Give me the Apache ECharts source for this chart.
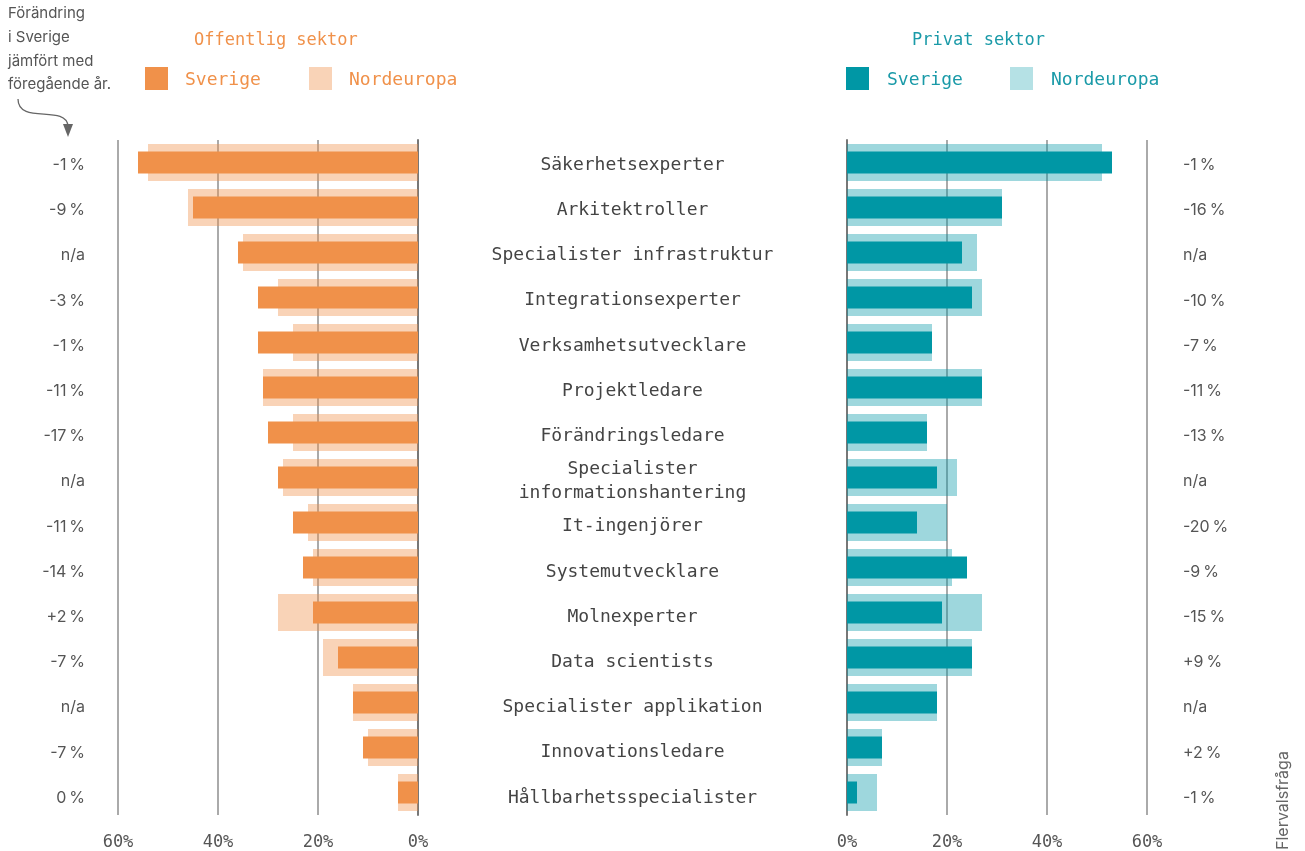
<!DOCTYPE html>
<html>
<head>
<meta charset="utf-8">
<script src="https://cdn.jsdelivr.net/npm/echarts@6/dist/echarts.min.js"></script>
<style>
  html, body { margin: 0; padding: 0; background: #fff; }
  #main { width: 1305px; height: 851px; }
</style>
</head>
<body>
<div id="main"></div>
<script>
// roller (mitten)
const categories = [
  'Säkerhetsexperter', 'Arkitektroller', 'Specialister infrastruktur', 'Integrationsexperter',
  'Verksamhetsutvecklare', 'Projektledare', 'Förändringsledare', 'Specialister\ninformationshantering',
  'It-ingenjörer', 'Systemutvecklare', 'Molnexperter', 'Data scientists',
  'Specialister applikation', 'Innovationsledare', 'Hållbarhetsspecialister'
]
// offentlig sektor, andel %
const offSverige = [56, 45, 36, 32, 32, 31, 30, 28, 25, 23, 21, 16, 13, 11, 4]
const offNord = [54, 46, 35, 28, 25, 31, 25, 27, 22, 21, 28, 19, 13, 10, 4]
// privat sektor, andel %
const privSverige = [53, 31, 23, 25, 17, 27, 16, 18, 14, 24, 19, 25, 18, 7, 2]
const privNord = [51, 31, 26, 27, 17, 27, 16, 22, 20, 21, 27, 25, 18, 7, 6]
// förändring jämfört med föregående år
const offChange = ['-1\u2009%', '-9\u2009%', 'n/a', '-3\u2009%', '-1\u2009%', '-11\u2009%', '-17\u2009%', 'n/a',
  '-11\u2009%', '-14\u2009%', '+2\u2009%', '-7\u2009%', 'n/a', '-7\u2009%', '0\u2009%']
const privChange = ['-1\u2009%', '-16\u2009%', 'n/a', '-10\u2009%', '-7\u2009%', '-11\u2009%', '-13\u2009%', 'n/a',
  '-20\u2009%', '-9\u2009%', '-15\u2009%', '+9\u2009%', 'n/a', '+2\u2009%', '-1\u2009%']
const xTicks = [0, 20, 40, 60]

const ORANGE = '#f0914a'
const ORANGE_LIGHT = 'rgba(240, 145, 74, 0.4)'
const TEAL = '#0097a5'
const TEAL_LIGHT = 'rgba(0, 151, 165, 0.38)'
const TEAL_TEXT = '#1a9aa8'
const MONO = '"DejaVu Sans Mono", monospace'
const SANS = 'Inter, "Noto Sans", sans-serif'

const myChart = echarts.init(document.getElementById('main'), null, { renderer: 'canvas' })

function valueAxis (gridIndex, inverse) {
  return {
    type: 'value',
    gridIndex: gridIndex,
    inverse: inverse,
    min: xTicks[0],
    max: xTicks[xTicks.length - 1],
    interval: 20,
    axisLine: { show: false },
    axisTick: { show: false },
    axisLabel: {
      formatter: '{value}%',
      color: '#555',
      fontFamily: MONO,
      fontSize: 17,
      margin: 19
    },
    splitLine: { lineStyle: { color: '#aaa', width: 2 } }
  }
}

function catAxis (gridIndex, position, data, labelOpts, lineShow) {
  return {
    type: 'category',
    gridIndex: gridIndex,
    position: position,
    inverse: true,
    data: data,
    axisLine: { show: lineShow, onZero: false, lineStyle: { color: '#777', width: 2 } },
    axisTick: { show: false },
    axisLabel: labelOpts
  }
}

const changeLabel = {
  color: '#555',
  fontFamily: SANS,
  fontSize: 16,
  margin: 0
}

myChart.setOption({
  animation: false,
  grid: [
    { left: 118, width: 300, top: 140, height: 678 },
    { left: 847, width: 300, top: 140, height: 678 },
    // textrader, något nedflyttade
    { left: 418, width: 429, top: 142.5, height: 678 },
    { left: 85, width: 1098, top: 142.5, height: 678 }
  ],
  xAxis: [
    valueAxis(0, true),
    valueAxis(1, false),
    { type: 'value', gridIndex: 2, show: false },
    { type: 'value', gridIndex: 3, show: false }
  ],
  yAxis: [
    catAxis(0, 'right', categories, { show: false }, true),
    catAxis(0, 'left', categories, { show: false }, false),
    catAxis(1, 'left', categories, { show: false }, true),
    catAxis(1, 'right', categories, { show: false }, false),
    catAxis(2, 'left', categories, {
      inside: true,
      margin: 214.5,
      align: 'center',
      color: '#444',
      fontFamily: MONO,
      fontSize: 18,
      lineHeight: 24
    }, false),
    catAxis(3, 'left', offChange, changeLabel, false),
    catAxis(3, 'right', privChange, changeLabel, false)
  ],
  series: [
    {
      name: 'Nordeuropa offentlig',
      type: 'bar',
      xAxisIndex: 0,
      yAxisIndex: 0,
      barWidth: 37,
      data: offNord,
      itemStyle: { color: ORANGE_LIGHT }
    },
    {
      name: 'Sverige offentlig',
      type: 'bar',
      xAxisIndex: 0,
      yAxisIndex: 1,
      barWidth: 22,
      z: 3,
      data: offSverige,
      itemStyle: { color: ORANGE }
    },
    {
      name: 'Nordeuropa privat',
      type: 'bar',
      xAxisIndex: 1,
      yAxisIndex: 2,
      barWidth: 37,
      data: privNord,
      itemStyle: { color: TEAL_LIGHT }
    },
    {
      name: 'Sverige privat',
      type: 'bar',
      xAxisIndex: 1,
      yAxisIndex: 3,
      barWidth: 22,
      z: 3,
      data: privSverige,
      itemStyle: { color: TEAL }
    }
  ],
  graphic: [
    // rubriker
    { type: 'text', left: 194, top: 32, style: { text: 'Offentlig sektor', fill: ORANGE, font: '17px ' + MONO } },
    { type: 'text', left: 912, top: 32, style: { text: 'Privat sektor', fill: TEAL_TEXT, font: '17px ' + MONO } },
    // teckenförklaring
    { type: 'rect', shape: { x: 145, y: 67, width: 23, height: 23 }, style: { fill: ORANGE } },
    { type: 'text', left: 185, top: 71, style: { text: 'Sverige', fill: ORANGE, font: '18px ' + MONO } },
    { type: 'rect', shape: { x: 309, y: 67, width: 23, height: 23 }, style: { fill: ORANGE_LIGHT } },
    { type: 'text', left: 349, top: 71, style: { text: 'Nordeuropa', fill: ORANGE, font: '18px ' + MONO } },
    { type: 'rect', shape: { x: 846, y: 67, width: 23, height: 23 }, style: { fill: TEAL } },
    { type: 'text', left: 887, top: 71, style: { text: 'Sverige', fill: TEAL_TEXT, font: '18px ' + MONO } },
    { type: 'rect', shape: { x: 1010, y: 67, width: 23, height: 23 }, style: { fill: 'rgba(0, 151, 165, 0.29)' } },
    { type: 'text', left: 1051, top: 71, style: { text: 'Nordeuropa', fill: TEAL_TEXT, font: '18px ' + MONO } },
    // förklaring uppe till vänster
    {
      type: 'text',
      left: 8,
      top: 2,
      style: {
        text: 'Förändring\ni Sverige\njämfört med\nföregående år.',
        fill: '#555',
        font: '15px ' + SANS,
        lineHeight: 23.7
      }
    },
    {
      type: 'bezierCurve',
      shape: { x1: 18, y1: 99, cpx1: 18, cpy1: 125, cpx2: 66, cpy2: 104, x2: 68, y2: 126 },
      style: { stroke: '#666', lineWidth: 1.3, fill: null }
    },
    {
      type: 'polygon',
      shape: { points: [[63, 124], [73, 124], [68, 137]] },
      style: { fill: '#666' }
    },
    // fotnot
    {
      type: 'text',
      x: 1275,
      y: 850,
      rotation: Math.PI / 2,
      style: { text: 'Flervalsfråga', fill: '#666', font: '16px ' + SANS }
    }
  ]
})
</script>
</body>
</html>
